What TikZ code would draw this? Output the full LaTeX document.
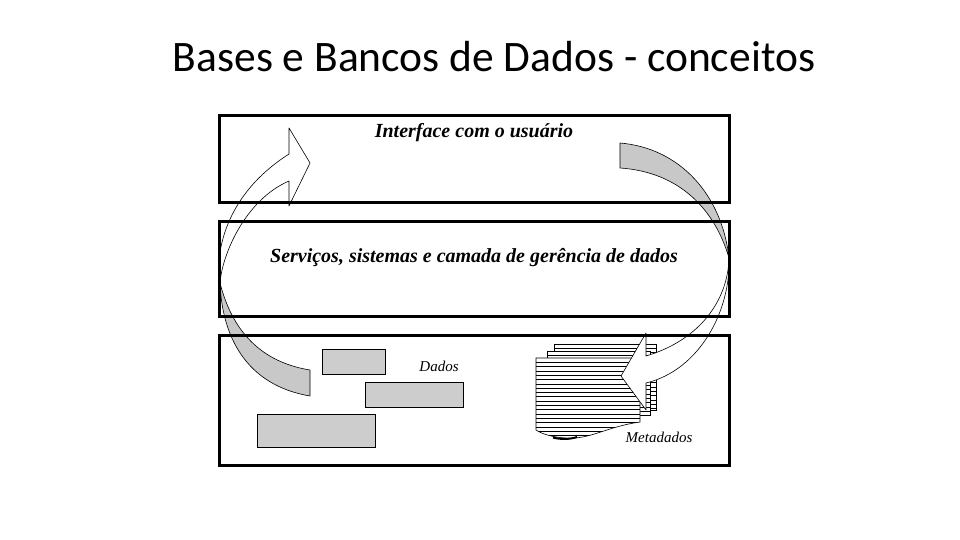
\documentclass[tikz,border=0pt]{standalone}
\usepackage{fontspec}
\setmainfont{Liberation Serif}
\newfontfamily\titlefont{Carlito}
\definecolor{ribbongray}{RGB}{200,200,200}
\definecolor{datagray}{RGB}{205,205,205}

\begin{document}
\begin{tikzpicture}[x=1pt,y=-1pt,
    layer/.style={draw,line width=3pt,inner sep=0pt},
    layer text/.style={font=\fontsize{20}{22}\selectfont\bfseries\itshape,anchor=base},
    small text/.style={font=\fontsize{15}{17}\selectfont\itshape,anchor=base},
    data block/.style={draw,line width=0.8pt,fill=datagray,inner sep=0pt},
    hatch/.style={line width=0.5pt},
    ribbon/.style={draw,line width=0.6pt,line join=round}]
    \useasboundingbox (0,0) rectangle (960,540);

    \node[font=\titlefont\fontsize{43.5}{46}\selectfont,anchor=base] (title) at (494,72) {Bases e Bancos de Dados - conceitos};

    % blocos de dados
    \node[data block,minimum width=63pt,minimum height=25pt] (d1) at (353.5,361.5) {};
    \node[data block,minimum width=98pt,minimum height=25pt] (d2) at (414,394.5) {};
    \node[data block,minimum width=118pt,minimum height=33pt] (d3) at (316,430.5) {};

    % pilha de metadados
    \foreach \xa/\ya/\xb/\yb in {554/344/656/410, 547/351/650/415}{
        \fill[white] (\xa,\ya) rectangle (\xb,\yb);
        \begin{scope}
            \clip (\xa,\ya) rectangle (\xb,\yb);
            \foreach \h in {4.3,8.6,...,70} \draw[hatch] (\xa,\ya+\h) -- (\xb,\ya+\h);
        \end{scope}
        \draw[line width=0.6pt] (\xa,\ya) rectangle (\xb,\yb);
    }
    \def\frontpage{(536,358) -- (640,358) -- (640,422)
        .. controls (605,427) and (590,440) .. (565,438)
        .. controls (552,437) and (542,434) .. (536,430) -- cycle}
    \fill[white] \frontpage;
    \begin{scope}
        \clip \frontpage;
        \foreach \h in {4.3,8.6,...,85} \draw[hatch] (536,358+\h) -- (640,358+\h);
    \end{scope}
    \draw[line width=0.6pt] \frontpage;
    \draw[line width=2pt] (553,437.5) .. controls (560,439.5) and (570,439.5) .. (577,437);

    % seta da esquerda
    \path[ribbon,fill=white] (289,154) -- (289,128) -- (310,163) -- (289,206) -- (289,181)
        .. controls (245,200) and (222,255) .. (220,283)
        .. controls (216,265) and (217,200) .. (289,154) -- cycle;
    \path[ribbon,fill=ribbongray] (220,283) .. controls (222,335) and (245,385) .. (310,396)
        -- (310,370) .. controls (260,362) and (232,330) .. (220,283) -- cycle;

    % seta da direita
    \path[ribbon,fill=ribbongray] (620,143) .. controls (680,148) and (722,195) .. (729,258)
        .. controls (715,210) and (680,172) .. (620,168) -- cycle;
    \path[ribbon,fill=white] (646,356) -- (646,333) -- (621,376) -- (646,410) -- (646,383)
        .. controls (700,370) and (731,310) .. (729,258)
        .. controls (728,300) and (700,340) .. (646,356) -- cycle;

    % camadas
    \node[layer,minimum width=510pt,minimum height=86pt] (interface) at (474,159) {};
    \node[layer,minimum width=510pt,minimum height=95pt] (servicos) at (474,268.5) {};
    \node[layer,minimum width=510pt,minimum height=130pt] (banco) at (474,400) {};

    \node[layer text] (interfacelbl) at (474,138) {Interface com o usuário};
    \node[layer text] (servicoslbl) at (474,262) {Serviços, sistemas e camada de gerência de dados};
    \node[small text] (dadoslbl) at (439,371) {Dados};
    \node[small text] (metalbl) at (659,442) {Metadados};
\end{tikzpicture}
\end{document}
